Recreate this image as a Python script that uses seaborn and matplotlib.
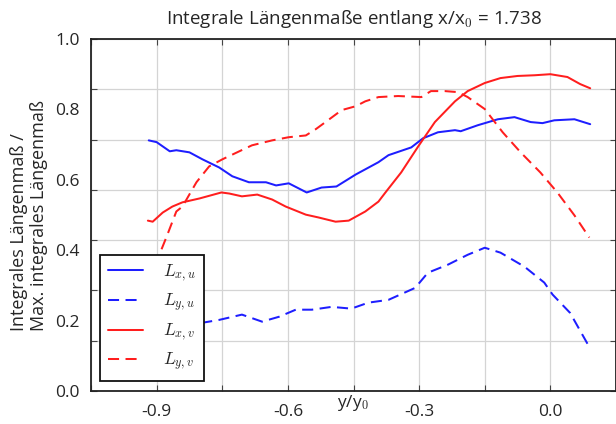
import numpy as np
import pandas as pd
import matplotlib
matplotlib.use("Agg")
import matplotlib.pyplot as plt
import seaborn as sns

# ---- data ----
x_lxu = [-0.918, -0.900, -0.870, -0.855, -0.825, -0.795, -0.757, -0.727, -0.689, -0.650,
         -0.627, -0.598, -0.557, -0.523, -0.489, -0.445, -0.393, -0.370, -0.318, -0.291,
         -0.257, -0.218, -0.205, -0.166, -0.120, -0.082, -0.045, -0.018, 0.009, 0.055, 0.091]
y_lxu = [0.712, 0.707, 0.681, 0.684, 0.678, 0.658, 0.635, 0.610, 0.593, 0.593,
         0.584, 0.590, 0.564, 0.578, 0.581, 0.615, 0.650, 0.670, 0.692, 0.718,
         0.735, 0.741, 0.738, 0.755, 0.772, 0.778, 0.764, 0.761, 0.769, 0.772, 0.758]

x_lyu = [-0.918, -0.859, -0.795, -0.757, -0.705, -0.659, -0.620, -0.582, -0.545, -0.500,
         -0.455, -0.416, -0.370, -0.309, -0.280, -0.234, -0.189, -0.150, -0.114, -0.059,
         -0.014, 0.005, 0.045, 0.089]
y_lyu = [0.197, 0.191, 0.194, 0.202, 0.217, 0.197, 0.211, 0.231, 0.231, 0.239,
         0.234, 0.251, 0.259, 0.293, 0.336, 0.359, 0.387, 0.407, 0.393, 0.353,
         0.308, 0.274, 0.222, 0.125]

x_lxv = [-0.920, -0.909, -0.886, -0.864, -0.841, -0.802, -0.752, -0.734, -0.705, -0.670,
         -0.636, -0.605, -0.559, -0.530, -0.491, -0.461, -0.423, -0.393, -0.377, -0.341,
         -0.302, -0.264, -0.218, -0.189, -0.150, -0.114, -0.075, -0.036, 0.000, 0.039,
         0.068, 0.091]
y_lxv = [0.484, 0.481, 0.507, 0.524, 0.536, 0.547, 0.564, 0.561, 0.553, 0.558,
         0.544, 0.524, 0.501, 0.493, 0.481, 0.484, 0.510, 0.538, 0.564, 0.621,
         0.695, 0.764, 0.823, 0.852, 0.875, 0.889, 0.895, 0.897, 0.900, 0.892,
         0.872, 0.860]

x_lyv = [-0.918, -0.900, -0.877, -0.855, -0.841, -0.809, -0.780, -0.750, -0.711, -0.682,
         -0.636, -0.598, -0.559, -0.536, -0.514, -0.477, -0.445, -0.423, -0.393, -0.348,
         -0.295, -0.273, -0.241, -0.211, -0.189, -0.150, -0.109, -0.068, -0.023, 0.016,
         0.055, 0.089]
y_lyv = [0.310, 0.368, 0.439, 0.510, 0.524, 0.593, 0.638, 0.658, 0.681, 0.698,
         0.712, 0.721, 0.726, 0.744, 0.764, 0.798, 0.809, 0.823, 0.835, 0.838,
         0.835, 0.852, 0.852, 0.849, 0.835, 0.801, 0.735, 0.678, 0.621, 0.564,
         0.499, 0.436]

series_labels = [r"$L_{x,u}$", r"$L_{y,u}$", r"$L_{x,v}$", r"$L_{y,v}$"]
x_tick_values = [-0.9, -0.6, -0.3, 0.0]
x_tick_labels = ["-0.9", "-0.6", "-0.3", "0.0"]
y_tick_values = [0.0, 0.2, 0.4, 0.6, 0.8, 1.0]
y_tick_labels = ["0.0", "0.2", "0.4", "0.6", "0.8", "1.0"]

# ---- style ----
sns.set_theme(style="white")
plt.rcParams["font.family"] = ["Open Sans", "DejaVu Sans"]
plt.rcParams["mathtext.fontset"] = "cm"

fig = plt.figure(figsize=(6.16, 4.24), dpi=100)
ax = fig.add_axes([91 / 616, 33 / 424, 1 - 91 / 616, (391 - 39) / 424])

blue = "#1e1eff"
red = "#ff1e1e"
dash = (0, (5.5, 3.2))
specs = [
    (x_lxu, y_lxu, blue, "-"),
    (x_lyu, y_lyu, blue, dash),
    (x_lxv, y_lxv, red, "-"),
    (x_lyv, y_lyv, red, dash),
]
for (xs, ys, c, ls), lab in zip(specs, series_labels):
    df = pd.DataFrame({"x": xs, "y": ys})
    sns.lineplot(data=df, x="x", y="y", ax=ax, color=c, linestyle=ls,
                 linewidth=1.45, label=lab, estimator=None, sort=False)

ax.set_xlim(-1.05, 0.145)
ax.set_ylim(0, 1)

# ticks / grid: grid + tick marks on a finer set, labels on a separate set
xmaj = np.round(np.arange(-1.05, 0.16, 0.15), 2)
ax.set_xticks(xmaj, labels=[""] * len(xmaj))
ax.set_xticks(x_tick_values, labels=x_tick_labels, minor=True)
ax.set_yticks(np.arange(8) / 7, labels=[""] * 8)
ax.set_yticks(y_tick_values, labels=y_tick_labels, minor=True)
ax.xaxis.remove_overlapping_locs = False
ax.yaxis.remove_overlapping_locs = False
ax.tick_params(which="major", direction="in", length=4, width=0.8, color="#444444",
               top=True, right=True, bottom=True, left=True, labelsize=12.5)
ax.tick_params(which="minor", length=0, labelsize=12.5, bottom=True, left=True)
ax.tick_params(axis="y", which="minor", pad=8)
ax.tick_params(axis="x", which="minor", pad=9)
ax.grid(True, which="major", color="#d4d4d4", linewidth=0.9)
for s in ax.spines.values():
    s.set_color("#222222")
    s.set_linewidth(1.3)

ax.set_xlabel("y/y$_0$", fontsize=12.5, labelpad=-19)
ax.set_ylabel("Integrales Längenmaß /\nMax. integrales Längenmaß", fontsize=13,
              multialignment="left", labelpad=5, linespacing=1.15)
ax.set_title("Integrale Längenmaße entlang x/x$_0$ = 1.738", fontsize=13.5, pad=11)

leg = ax.legend(loc="lower left", bbox_to_anchor=(100 / 616, 43 / 424),
                bbox_transform=fig.transFigure, borderaxespad=0, fontsize=12.5,
                frameon=True, fancybox=False, edgecolor="#111111", framealpha=1,
                handlelength=2.0, labelspacing=0.45, borderpad=0.45, handletextpad=1.2)
leg.get_frame().set_linewidth(1.3)

fig.savefig("out.png", dpi=100)
